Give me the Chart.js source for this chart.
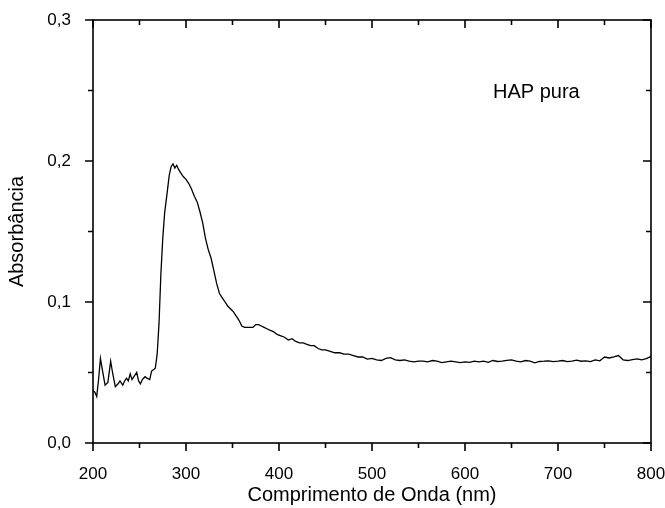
<!DOCTYPE html>
<html>
<head>
<meta charset="utf-8">
<script src="https://cdn.jsdelivr.net/npm/chart.js@4"></script>
<style>
  html, body { margin: 0; padding: 0; background: #fff; }
</style>
</head>
<body>
<canvas id="grafico" width="665" height="508"></canvas>
<script>
const comprimentos = [200, 202, 204, 206, 208, 210, 213, 216, 219, 221, 224, 227, 229, 232, 234, 236, 238, 240, 242, 244,
  247, 249, 251, 253, 256, 258, 261, 263, 265, 267, 269, 271, 273, 275, 277, 280, 282, 284, 286, 288,
  290, 292, 294, 297, 300, 303, 306, 309, 312, 315, 318, 321, 324, 327, 330, 333, 336, 339, 342, 345,
  348, 351, 354, 357, 360, 363, 366, 369, 372, 375, 378, 381, 384, 387, 390, 394, 398, 402, 406, 410,
  414, 418, 422, 426, 430, 434, 438, 442, 446, 450, 455, 460, 465, 470, 475, 480, 485, 490, 495, 500,
  505, 510, 515, 520, 525, 530, 535, 540, 545, 550, 555, 560, 565, 570, 575, 580, 585, 590, 595, 600,
  605, 610, 615, 620, 625, 630, 635, 640, 645, 650, 655, 660, 665, 670, 675, 680, 685, 690, 695, 700,
  705, 710, 715, 720, 725, 730, 735, 740, 745, 750, 755, 760, 765, 770, 775, 780, 785, 790, 795, 800];

const absorbancia = [0.037, 0.036, 0.033, 0.045, 0.060, 0.052, 0.041, 0.043, 0.058, 0.050, 0.040, 0.042, 0.044, 0.041, 0.044, 0.046, 0.044, 0.049, 0.045, 0.047,
  0.050, 0.044, 0.042, 0.045, 0.047, 0.046, 0.045, 0.051, 0.052, 0.053, 0.063, 0.085, 0.120, 0.145, 0.163, 0.179, 0.190, 0.196, 0.198, 0.195,
  0.197, 0.194, 0.192, 0.189, 0.187, 0.184, 0.180, 0.175, 0.171, 0.164, 0.156, 0.145, 0.137, 0.131, 0.122, 0.113, 0.106, 0.103, 0.100, 0.097,
  0.095, 0.093, 0.090, 0.087, 0.083, 0.082, 0.082, 0.082, 0.082, 0.084, 0.084, 0.083, 0.082, 0.081, 0.080, 0.079, 0.077, 0.076, 0.075, 0.073,
  0.074, 0.072, 0.071, 0.071, 0.070, 0.069, 0.069, 0.067, 0.066, 0.066, 0.065, 0.064, 0.064, 0.063, 0.063, 0.062, 0.061, 0.061, 0.0595, 0.060,
  0.059, 0.0585, 0.060, 0.0605, 0.059, 0.0585, 0.059, 0.058, 0.0575, 0.058, 0.058, 0.0575, 0.0585, 0.058, 0.057, 0.0575, 0.058, 0.0575, 0.057, 0.0575,
  0.0572, 0.058, 0.0576, 0.058, 0.0572, 0.0585, 0.0578, 0.058, 0.0586, 0.059, 0.058, 0.0575, 0.0585, 0.058, 0.0568, 0.0578, 0.058, 0.0583, 0.0577, 0.058,
  0.0585, 0.0577, 0.058, 0.0587, 0.058, 0.0583, 0.0577, 0.059, 0.0583, 0.061, 0.0603, 0.061, 0.062, 0.059, 0.0585, 0.0592, 0.0597, 0.059, 0.0598, 0.0614];

const ticksX = [200, 300, 400, 500, 600, 700, 800];
const ticksY = [0.0, 0.1, 0.2, 0.3];
const rotulo = "HAP pura";

const fonte = "'Liberation Sans', Arial, sans-serif";

// moldura com marcas (maiores e menores) como no Origin
const moldura = {
  id: "moldura",
  afterDraw(chart) {
    const ctx = chart.ctx;
    const a = chart.chartArea;
    const sx = chart.scales.x;
    const sy = chart.scales.y;
    ctx.save();
    ctx.strokeStyle = "#000";
    ctx.lineWidth = 1.6;
    ctx.strokeRect(a.left, a.top, a.right - a.left, a.bottom - a.top);
    ctx.beginPath();
    for (let v = 200; v <= 800; v += 50) {
      const px = sx.getPixelForValue(v);
      const len = v % 100 === 0 ? 8 : 5;
      ctx.moveTo(px, a.bottom); ctx.lineTo(px, a.bottom + len);
      ctx.moveTo(px, a.top); ctx.lineTo(px, a.top + len);
    }
    for (let i = 0; i <= 6; i++) {
      const py = sy.getPixelForValue(i * 0.05);
      const len = i % 2 === 0 ? 8 : 5;
      ctx.moveTo(a.left, py); ctx.lineTo(a.left - len, py);
      ctx.moveTo(a.right, py); ctx.lineTo(a.right - len, py);
    }
    ctx.stroke();
    ctx.fillStyle = "#000";
    ctx.font = "20px " + fonte;
    ctx.textBaseline = "alphabetic";
    ctx.fillText(rotulo, 493, 98);
    ctx.restore();
  }
};

new Chart(document.getElementById("grafico").getContext("2d"), {
  type: "line",
  data: {
    datasets: [{
      data: comprimentos.map((c, i) => ({ x: c, y: absorbancia[i] })),
      borderColor: "#000",
      borderWidth: 1.3,
      pointRadius: 0,
      tension: 0,
      fill: false
    }]
  },
  options: {
    responsive: false,
    animation: false,
    layout: { padding: { top: 20, right: 14, left: 0, bottom: 0 } },
    plugins: { legend: { display: false }, tooltip: { enabled: false } },
    scales: {
      x: {
        type: "linear",
        min: 200,
        max: 800,
        afterBuildTicks: s => { s.ticks = ticksX.map(v => ({ value: v })); },
        afterFit: s => { s.height = 65; s.paddingLeft = 0; s.paddingRight = 0; },
        grid: { display: false },
        border: { display: false },
        ticks: { color: "#000", padding: 13, maxRotation: 0, font: { family: fonte, size: 17 } },
        title: { display: true, text: "Comprimento de Onda (nm)", color: "#000", padding: { top: 0, bottom: 1 }, font: { family: fonte, size: 20 } }
      },
      y: {
        type: "linear",
        min: 0,
        max: 0.3,
        afterBuildTicks: s => { s.ticks = ticksY.map(v => ({ value: v })); },
        afterFit: s => { s.width = 93; s.paddingTop = 0; s.paddingBottom = 0; },
        grid: { display: false },
        border: { display: false },
        ticks: { color: "#000", padding: 14, font: { family: fonte, size: 17 },
          callback: v => v.toFixed(1).replace(".", ",") },
        title: { display: true, text: "Absorbância", color: "#000", padding: { top: 5, bottom: 0 }, font: { family: fonte, size: 20 } }
      }
    }
  },
  plugins: [moldura]
});
</script>
</body>
</html>
